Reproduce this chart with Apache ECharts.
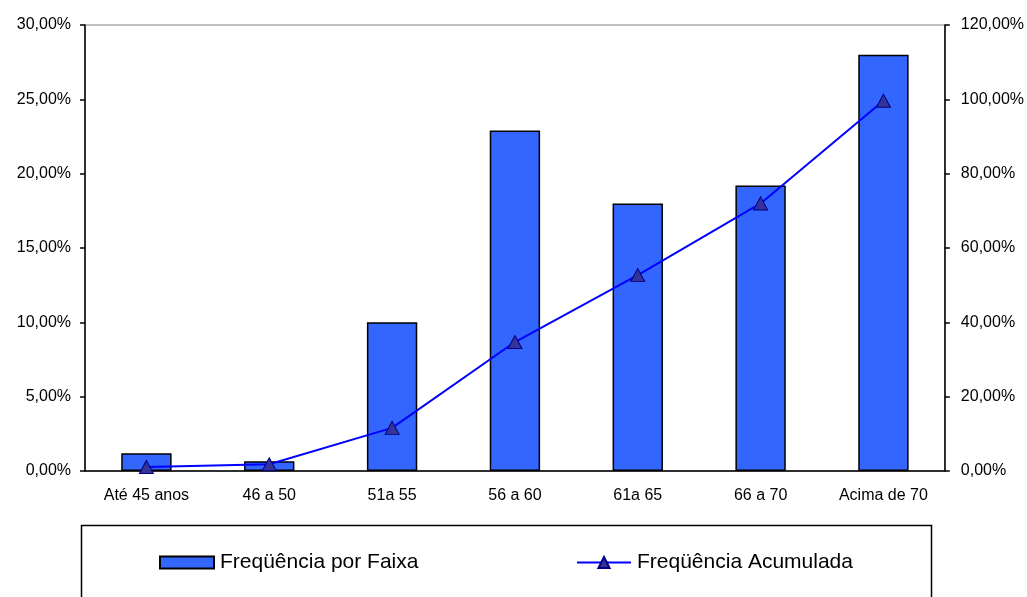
<!DOCTYPE html>
<html>
<head>
<meta charset="utf-8">
<script src="https://cdn.jsdelivr.net/npm/echarts@6/dist/echarts.min.js"></script>
<style>
  html, body { margin: 0; padding: 0; background: #fff; }
  #chart { width: 1027px; height: 597px; }
</style>
</head>
<body>
<div id="chart"></div>
<script>
// faixas etarias
var faixas = ['Até 45 anos', '46 a 50', '51a 55', '56 a 60', '61a 65', '66 a 70', 'Acima de 70'];
// frequencia por faixa (%)
var freqFaixa = [1.2, 0.65, 10.0, 22.9, 18.0, 19.2, 28.0];
// frequencia acumulada (%)
var freqAcum = [1.1, 1.8, 11.6, 34.7, 52.7, 72.0, 99.6];

var fmt = function (v) { return v.toFixed(2).replace('.', ',') + '%'; };
var fonte = 'Liberation Sans, Arial, sans-serif';

var chart = echarts.init(document.getElementById('chart'));
chart.setOption({
  animation: false,
  grid: {
    left: 85, right: 82, top: 25, bottom: 126,
    show: true, borderColor: '#808080', borderWidth: 1
  },
  legend: [
    {
      data: [{ name: 'Freqüência por Faixa', icon: 'rect' }],
      left: 159, top: 552, padding: 0,
      itemWidth: 54, itemHeight: 12,
      textStyle: { fontFamily: fonte, fontSize: 21, color: '#000', padding: [0, 0, 0, 1] }
    },
    {
      data: ['Freqüência Acumulada'],
      left: 576, top: 552, padding: 0,
      itemWidth: 54, itemHeight: 14,
      textStyle: { fontFamily: fonte, fontSize: 21, color: '#000', padding: [0, 0, 0, 1] }
    }
  ],
  graphic: [{
    type: 'rect',
    left: 79, top: 523,
    shape: { width: 850, height: 100 },
    style: { fill: 'none', stroke: '#000', lineWidth: 1.5 },
    z: -1
  }],
  xAxis: {
    type: 'category',
    data: faixas,
    axisLine: { lineStyle: { color: '#000', width: 1.5 } },
    axisTick: { length: 6, lineStyle: { color: '#000', width: 1.5 } },
    axisLabel: { fontFamily: fonte, fontSize: 16, color: '#000', margin: 17 }
  },
  yAxis: [
    {
      type: 'value', min: 0, max: 30, interval: 5,
      splitLine: { show: false },
      axisLine: { show: true, lineStyle: { color: '#000', width: 1.5 } },
      axisTick: { show: true, length: 5, lineStyle: { color: '#000', width: 1.5 } },
      axisLabel: { fontFamily: fonte, fontSize: 16, color: '#000', margin: 14, formatter: fmt }
    },
    {
      type: 'value', min: 0, max: 120, interval: 20,
      splitLine: { show: false },
      axisLine: { show: true, lineStyle: { color: '#000', width: 1.5 } },
      axisTick: { show: true, length: 5, lineStyle: { color: '#000', width: 1.5 } },
      axisLabel: { fontFamily: fonte, fontSize: 16, color: '#000', margin: 16, formatter: fmt }
    }
  ],
  series: [
    {
      name: 'Freqüência por Faixa',
      type: 'bar',
      data: freqFaixa,
      barWidth: '41%',
      itemStyle: { color: '#3366FF', borderColor: '#000', borderWidth: 1.5 }
    },
    {
      name: 'Freqüência Acumulada',
      type: 'line',
      yAxisIndex: 1,
      data: freqAcum,
      symbol: 'triangle',
      symbolSize: [14, 13],
      lineStyle: { color: '#0000FF', width: 2 },
      itemStyle: { color: '#333399', borderColor: '#000080', borderWidth: 1 }
    }
  ]
});
</script>
</body>
</html>
